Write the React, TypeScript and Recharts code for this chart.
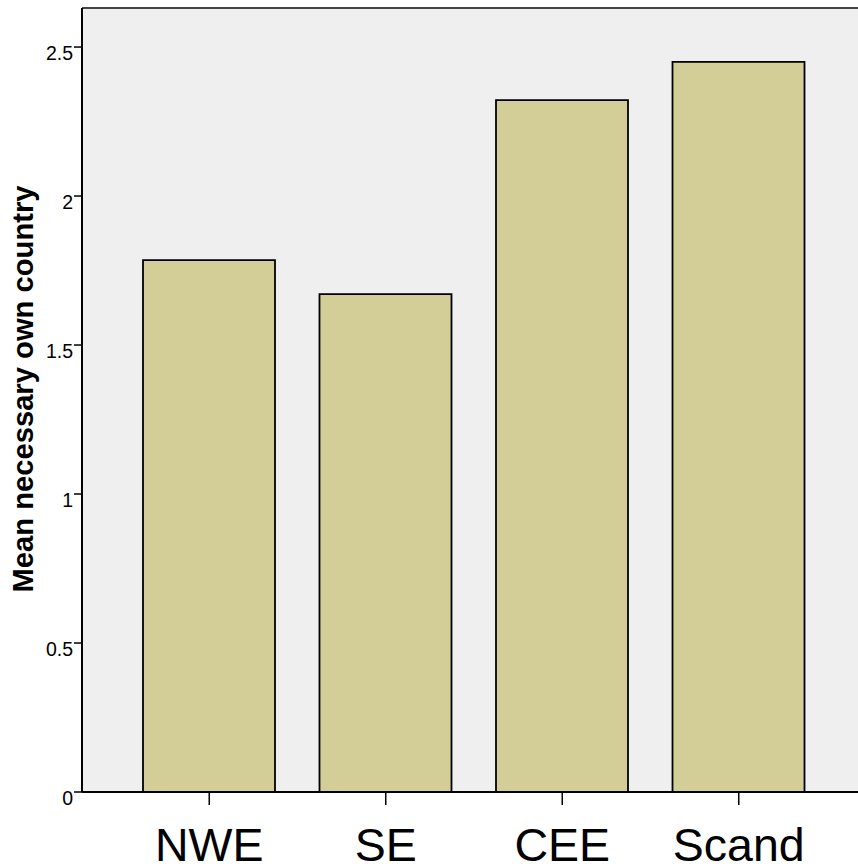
import { BarChart, Bar, XAxis, YAxis, CartesianGrid, ReferenceLine } from "recharts";

const regions = ["NWE", "SE", "CEE", "Scand"];
const meanNecessary = [1.785, 1.671, 2.322, 2.45];
const yTicks = [0, 0.5, 1, 1.5, 2, 2.5];
const yMax = 2.631;

const data = regions.map((region, i) => ({ region, value: meanNecessary[i] }));

const FONT = '"Liberation Sans", Arial, sans-serif';

function YTick(props: any) {
  const { x, y, payload } = props;
  return (
    <text x={x} y={y + 13} textAnchor="end" fontFamily={FONT} fontSize={19.5} fill="#000">
      {payload.value}
    </text>
  );
}

function XTick(props: any) {
  const { x, y, payload } = props;
  return (
    <text x={x} y={y + 54} textAnchor="middle" fontFamily={FONT} fontSize={46.5} fill="#000">
      {payload.value}
    </text>
  );
}

// axis title, rotated and centred on the span it has in the original
function YTitle() {
  return (
    <text
      x={33}
      y={389}
      transform="rotate(-90, 33, 389)"
      textAnchor="middle"
      fontFamily={FONT}
      fontSize={29.2}
      fontWeight={700}
      fill="#000"
    >
      Mean necessary own country
    </text>
  );
}

export default function App() {
  return (
    <div
      style={{
        position: "absolute",
        left: 0,
        top: 0,
        width: 858,
        height: 867,
        overflow: "hidden",
        background: "#fff",
      }}
    >
      <BarChart
        width={866}
        height={867}
        data={data}
        margin={{ top: 8, right: 0, bottom: 0, left: 0 }}
      >
        <CartesianGrid fill="#efefef" stroke="none" horizontal={false} vertical={false} />
        <XAxis
          dataKey="region"
          height={75}
          padding={{ left: 39, right: 39 }}
          tickSize={13}
          tickMargin={2}
          tickLine={{ stroke: "#000", strokeWidth: 1.5 }}
          axisLine={{ stroke: "#000", strokeWidth: 2 }}
          tick={<XTick />}
          interval={0}
        />
        <YAxis
          width={82}
          domain={[0, yMax]}
          ticks={yTicks}
          allowDataOverflow
          tickSize={8}
          tickMargin={1}
          tickLine={{ stroke: "#000", strokeWidth: 1.5 }}
          axisLine={{ stroke: "#000", strokeWidth: 2 }}
          tick={<YTick />}
          label={{ content: () => <YTitle /> }}
        />
        <ReferenceLine y={yMax} stroke="#444" strokeWidth={2} ifOverflow="visible" />
        <Bar
          dataKey="value"
          fill="#d3ce98"
          stroke="#000"
          strokeWidth={1.8}
          barSize={132}
          isAnimationActive={false}
        />
      </BarChart>
    </div>
  );
}
